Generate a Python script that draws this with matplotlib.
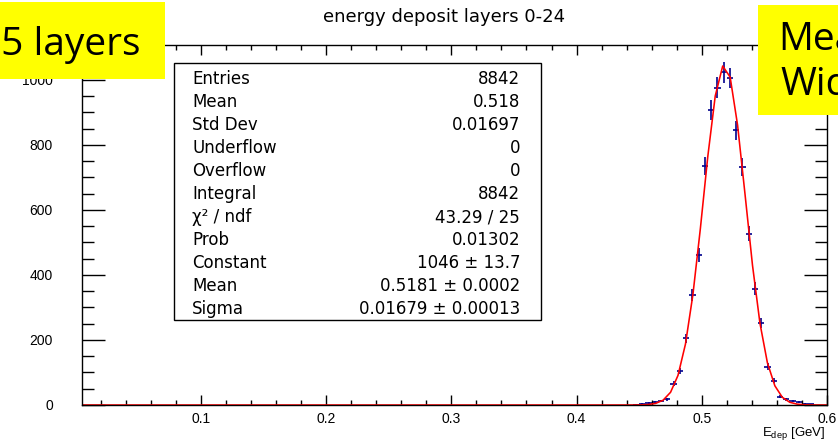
import matplotlib.pyplot as plt
from matplotlib.patches import Rectangle
from matplotlib.ticker import MultipleLocator
import numpy as np

plt.rcParams['font.family'] = ['Liberation Sans', 'DejaVu Sans']
plt.rcParams['mathtext.fontset'] = 'custom'
plt.rcParams['mathtext.rm'] = 'Liberation Sans'

# energy deposit histogram, 0.005 GeV bins (filled bins only)
bin_width = 0.005
bin_centers = [0.4475, 0.4525, 0.4575, 0.4625, 0.4675, 0.4725, 0.4775, 0.4825,
               0.4875, 0.4925, 0.4975, 0.5025, 0.5075, 0.5125, 0.5175, 0.5225,
               0.5275, 0.5325, 0.5375, 0.5425, 0.5475, 0.5525, 0.5575, 0.5625,
               0.5675, 0.5725, 0.5775, 0.5825, 0.5875]
counts = [1, 3, 6, 10, 12, 17, 65, 105,
          205, 338, 461, 735, 907, 976, 1023, 1005,
          845, 731, 527, 358, 252, 117, 75, 26,
          17, 13, 8, 4, 2]

# gaus fit parameters
fit_const = 1046
fit_mean = 0.5181
fit_sigma = 0.01679

stats_names = ["Entries", "Mean", "Std Dev", "Underflow", "Overflow", "Integral",
               "\u03c7\u00b2 / ndf", "Prob", "Constant", "Mean", "Sigma"]
stats_values = ["8842", "0.518", "0.01697", "0", "0", "8842", "43.29 / 25",
                "0.01302", "1046 \u00b1 13.7", "0.5181 \u00b1 0.0002",
                "0.01679 \u00b1 0.00013"]

W, H = 838, 442
fig = plt.figure(figsize=(W / 100, H / 100), dpi=100)
ax = fig.add_axes([82 / W, (H - 405) / H, 745 / W, 360 / H])

ax.errorbar(bin_centers, counts, xerr=bin_width / 2, yerr=np.sqrt(counts),
            fmt='none', ecolor='#00008c', elinewidth=1.2, capsize=0, zorder=1.5)

# fitted gaussian, drawn over the full histogram range
xf = np.linspace(0.005, 0.6, 101)
yf = fit_const * np.exp(-0.5 * ((xf - fit_mean) / fit_sigma) ** 2)
ax.plot(xf, yf, color='red', lw=1.15, zorder=2)

ax.set_xlim(0.005, 0.6)
ax.set_ylim(0, 1107)
ax.xaxis.set_major_locator(MultipleLocator(0.1))
ax.xaxis.set_minor_locator(MultipleLocator(0.02))
ax.yaxis.set_major_locator(MultipleLocator(200))
ax.yaxis.set_minor_locator(MultipleLocator(50))
ax.set_xticks([0.1, 0.2, 0.3, 0.4, 0.5, 0.6])
ax.set_xticklabels(["0.1", "0.2", "0.3", "0.4", "0.5", "0.6"])

ax.tick_params(axis='x', which='both', direction='in', top=True, bottom=True,
               labelsize=10, pad=5, width=1)
ax.tick_params(axis='x', which='major', length=7)
ax.tick_params(axis='x', which='minor', length=3.6)
ax.tick_params(axis='y', which='both', direction='in', left=True, right=True,
               labelsize=10, pad=21, width=1)
ax.tick_params(axis='y', which='major', length=16.5)
ax.tick_params(axis='y', which='minor', length=8.6)
for s in ax.spines.values():
    s.set_linewidth(1)

fig.text(443.7 / W, (H - 22) / H, "energy deposit layers 0-24", ha='center',
         va='baseline', fontsize=13, family='DejaVu Sans')
fig.text(825 / W, (H - 436) / H, r"E$_{\mathrm{dep}}$ [GeV]", ha='right',
         va='baseline', fontsize=9.5)

# statistics box
bx0, bx1, by0, by1 = 174, 541, 63, 320
fig.patches.append(Rectangle((bx0 / W, (H - by1) / H), (bx1 - bx0) / W,
                             (by1 - by0) / H, transform=fig.transFigure,
                             facecolor='white', edgecolor='black', lw=1, zorder=5))
for i, (name, val) in enumerate(zip(stats_names, stats_values)):
    yb = 84 + i * 23
    fig.text(192 / W, (H - yb) / H, name, ha='left', va='baseline',
             fontsize=12, family='DejaVu Sans', zorder=6)
    fig.text(520 / W, (H - yb) / H, val, ha='right', va='baseline',
             fontsize=12, family='DejaVu Sans', zorder=6)

# yellow annotation boxes
fig.patches.append(Rectangle((0, (H - 79) / H), 165 / W, 77 / H,
                             transform=fig.transFigure, facecolor='#ffff00',
                             edgecolor='none', zorder=7))
fig.text(140 / W, (H - 55) / H, "25 layers", ha='right', va='baseline',
         fontsize=28, family='Open Sans', zorder=8)
fig.patches.append(Rectangle((758 / W, (H - 115) / H), 80 / W, 110 / H,
                             transform=fig.transFigure, facecolor='#ffff00',
                             edgecolor='none', zorder=7))
fig.text(778 / W, (H - 50) / H, "Mean", ha='left', va='baseline',
         fontsize=28, family='Open Sans', zorder=8)
fig.text(780 / W, (H - 95) / H, "Width", ha='left', va='baseline',
         fontsize=28, family='Open Sans', zorder=8)

fig.savefig("out.png", dpi=100)
